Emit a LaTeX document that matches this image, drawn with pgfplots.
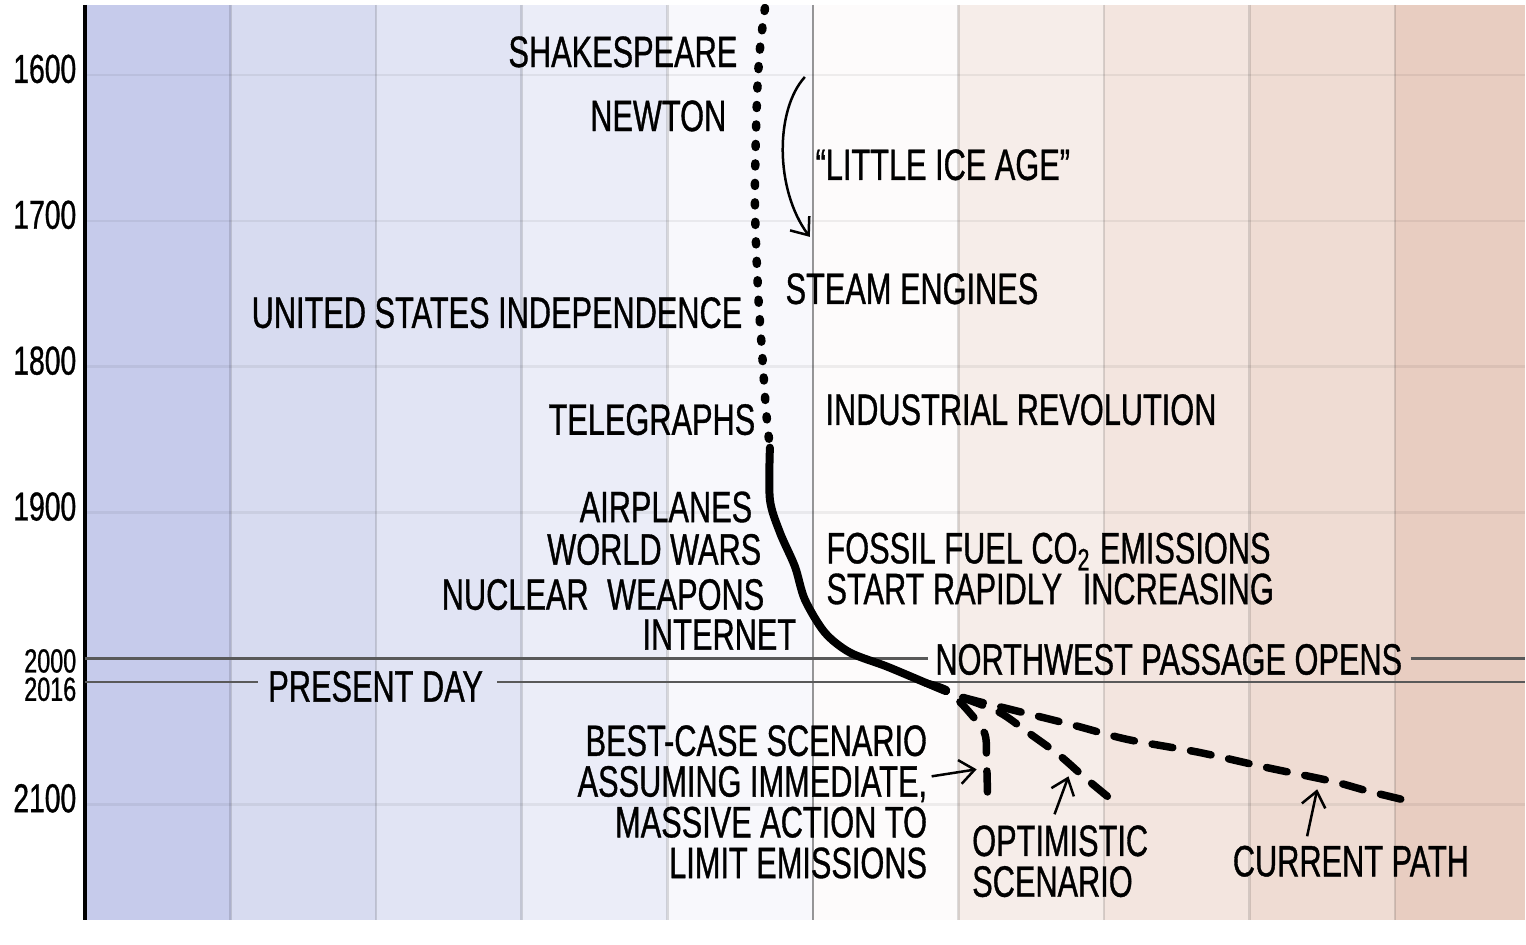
\documentclass[border=0pt]{standalone}
\usepackage{fontspec}
\setmainfont[FakeStretch=0.70,FakeBold=0.8]{Liberation Sans}
\usepackage{pgfplots}
\pgfplotsset{compat=1.18}
\usetikzlibrary{arrows.meta}
\definecolor{b0}{RGB}{198,203,235}
\definecolor{b1}{RGB}{215,219,240}
\definecolor{b2}{RGB}{225,228,244}
\definecolor{b3}{RGB}{235,237,248}
\definecolor{b4}{RGB}{248,248,252}
\definecolor{b5}{RGB}{253,251,251}
\definecolor{b6}{RGB}{246,237,233}
\definecolor{b7}{RGB}{243,229,223}
\definecolor{b8}{RGB}{239,220,211}
\definecolor{b9}{RGB}{232,205,193}
\newcommand{\tf}{\fontsize{12.5}{11.6}\selectfont}
\tikzset{xarrow/.style={line width=0.25mm,-{Straight Barb[length=1.5mm,width=2.4mm]}}}
\begin{document}
\begin{tikzpicture}
\begin{axis}[
  at={(0,0)}, anchor=south west,
  width=144.1mm, height=91.6mm, scale only axis,
  xmin=-5, xmax=4.89, ymin=1552.05, ymax=2179.45,
  y dir=reverse,
  set layers,
  axis lines*=left,
  x axis line style={draw=none},
  y axis line style={line width=1.1pt, black},
  major tick length=0pt,
  xtick={-4,-3,-2,-1,1,2,3,4},
  xticklabels={},
  ytick={1600,1700,1800,1900,2100},
  yticklabels={1600,1700,1800,1900,2100},
  extra y ticks={2000,2016},
  extra y tick labels={\smash{\raisebox{-2.0mm}{\fontsize{9.5}{9.5}\selectfont 2000}},\smash{\raisebox{-2.5mm}{\fontsize{9.5}{9.5}\selectfont 2016}}},
  extra y tick style={grid=none},
  /pgf/number format/assume math mode=true,
  yticklabel style={font=\fontsize{11.5}{11.5}\selectfont, inner sep=0pt, xshift=-0.8mm, yshift=0.6mm, text=black},
  grid=major,
  x grid style={line width=0.25mm, black, opacity=0.13},
  y grid style={line width=0.25mm, black, opacity=0.06},
]
% temperature bands (1 degree C each)
\addplot[on layer=axis background, fill=b0, draw=none] coordinates {(-5,1552.05)(-4,1552.05)(-4,2179.45)(-5,2179.45)} --cycle;
\addplot[on layer=axis background, fill=b1, draw=none] coordinates {(-4,1552.05)(-3,1552.05)(-3,2179.45)(-4,2179.45)} --cycle;
\addplot[on layer=axis background, fill=b2, draw=none] coordinates {(-3,1552.05)(-2,1552.05)(-2,2179.45)(-3,2179.45)} --cycle;
\addplot[on layer=axis background, fill=b3, draw=none] coordinates {(-2,1552.05)(-1,1552.05)(-1,2179.45)(-2,2179.45)} --cycle;
\addplot[on layer=axis background, fill=b4, draw=none] coordinates {(-1,1552.05)(0,1552.05)(0,2179.45)(-1,2179.45)} --cycle;
\addplot[on layer=axis background, fill=b5, draw=none] coordinates {(0,1552.05)(1,1552.05)(1,2179.45)(0,2179.45)} --cycle;
\addplot[on layer=axis background, fill=b6, draw=none] coordinates {(1,1552.05)(2,1552.05)(2,2179.45)(1,2179.45)} --cycle;
\addplot[on layer=axis background, fill=b7, draw=none] coordinates {(2,1552.05)(3,1552.05)(3,2179.45)(2,2179.45)} --cycle;
\addplot[on layer=axis background, fill=b8, draw=none] coordinates {(3,1552.05)(4,1552.05)(4,2179.45)(3,2179.45)} --cycle;
\addplot[on layer=axis background, fill=b9, draw=none] coordinates {(4,1552.05)(4.89,1552.05)(4.89,2179.45)(4,2179.45)} --cycle;
% zero line
\addplot[on layer=axis grid, black, opacity=0.4, line width=0.25mm] coordinates {(0,1552.05)(0,2179.45)};
% 2000 and 2016 lines
\addplot[black!65, line width=0.22mm] coordinates {(-5,2000)(0.789,2000)};
\addplot[black!65, line width=0.22mm] coordinates {(4.108,2000)(4.89,2000)};
\addplot[black!65, line width=0.22mm] coordinates {(-5,2016)(-3.813,2016)};
\addplot[black!65, line width=0.22mm] coordinates {(-2.167,2016)(4.89,2016)};
% reconstructed temperature (dotted)
\addplot[black, line width=0.85mm, line cap=round, dash pattern=on 0.3mm off 1.65mm, smooth] coordinates {
(-0.329,1554.1) (-0.364,1582.9) (-0.384,1617.1) (-0.398,1685.6) (-0.377,1747.3) (-0.350,1788.4) (-0.322,1829.5) (-0.295,1855.5)};
% measured temperature (solid)
\addplot[black, line width=0.8mm, line cap=round, smooth] coordinates {
(-0.295,1855.5) (-0.295,1891.1) (-0.226,1913.7) (-0.123,1937.0) (-0.055,1959.6) (0.082,1982.2) (0.254,1995.9) (0.508,2005.5) (0.782,2017.0)};
% scenarios (dashed)
\addplot[black, line width=0.75mm, line cap=round, dash pattern=on 2.1mm off 1.8mm, smooth] coordinates {
(0.782,2017.0) (0.926,2022.1) (1.070,2036.3) (1.180,2051.4) (1.193,2068.5) (1.200,2094.5)};
\addplot[black, line width=0.75mm, line cap=round, dash pattern=on 2.1mm off 1.8mm, smooth] coordinates {
(0.782,2017.0) (1.043,2027.4) (1.283,2037.0) (1.488,2051.4) (1.694,2066.4) (1.866,2081.5) (2.023,2094.5)};
\addplot[black, line width=0.75mm, line cap=round, dash pattern=on 2.1mm off 1.8mm, smooth] coordinates {
(0.782,2017.0) (1.008,2026.0) (1.385,2035.6) (1.797,2045.9) (2.160,2055.5) (2.654,2064.4) (3.114,2074.7) (3.567,2084.2) (3.820,2091.1) (4.129,2098.6)};
% labels
\node[anchor=east, inner sep=0pt, font=\tf] at (axis cs:-0.514,1584.2) {SHAKESPEARE};
\node[anchor=east, inner sep=0pt, font=\tf] at (axis cs:-0.590,1628.1) {NEWTON};
\node[anchor=west, inner sep=0pt, font=\tf] at (axis cs:0.014,1661.6) {“LITTLE ICE AGE”};
\node[anchor=west, inner sep=0pt, font=\tf] at (axis cs:-0.192,1746.6) {STEAM ENGINES};
\node[anchor=east, inner sep=0pt, font=\tf] at (axis cs:-0.480,1763.0) {UNITED STATES INDEPENDENCE};
\node[anchor=east, inner sep=0pt, font=\tf] at (axis cs:-0.391,1836.3) {TELEGRAPHS};
\node[anchor=west, inner sep=0pt, font=\tf] at (axis cs:0.082,1829.5) {INDUSTRIAL REVOLUTION};
\node[anchor=east, inner sep=0pt, font=\tf] at (axis cs:-0.412,1896.2) {AIRPLANES};
\node[anchor=east, inner sep=0pt, font=\tf] at (axis cs:-0.350,1925.3) {WORLD WARS};
\node[anchor=east, inner sep=0pt, font=\tf] at (axis cs:-0.329,1956.2) {NUCLEAR\hspace{1mm} WEAPONS};
\node[anchor=east, inner sep=0pt, font=\tf] at (axis cs:-0.110,1983.6) {INTERNET};
\node[anchor=west, inner sep=0pt, font=\tf, align=left] at (axis cs:0.089,1938.4) {FOSSIL FUEL CO\textsubscript{2} EMISSIONS\\START RAPIDLY\hspace{1.2mm} INCREASING};
\node[anchor=west, inner sep=0pt, font=\tf] at (axis cs:0.837,2000.7) {NORTHWEST PASSAGE OPENS};
\node[anchor=west, inner sep=0pt, font=\tf] at (axis cs:-3.745,2019.2) {PRESENT DAY};
\node[anchor=east, inner sep=0pt, font=\tf, align=right] at (axis cs:0.789,2098.3) {BEST-CASE SCENARIO\\ASSUMING IMMEDIATE,\\MASSIVE ACTION TO\\LIMIT EMISSIONS};
\node[anchor=west, inner sep=0pt, font=\tf, align=left] at (axis cs:1.090,2139.0) {OPTIMISTIC\\SCENARIO};
\node[anchor=west, inner sep=0pt, font=\tf] at (axis cs:2.880,2139.0) {CURRENT PATH};
% annotation arrows
\draw[xarrow] (axis cs:0.816,2080.8) -- (axis cs:1.125,2076.0);
\draw[xarrow] (axis cs:1.660,2106.8) -- (axis cs:1.756,2080.8);
\draw[xarrow] (axis cs:3.395,2121.9) -- (axis cs:3.464,2089.7);
\draw[xarrow] (axis cs:-0.055,1601.4) .. controls (axis cs:-0.261,1624.0) and (axis cs:-0.261,1678.8) .. (axis cs:-0.021,1711.0);
\end{axis}
\path (-8.5mm,0) rectangle (144.1mm,92.1mm);
\end{tikzpicture}
\end{document}
